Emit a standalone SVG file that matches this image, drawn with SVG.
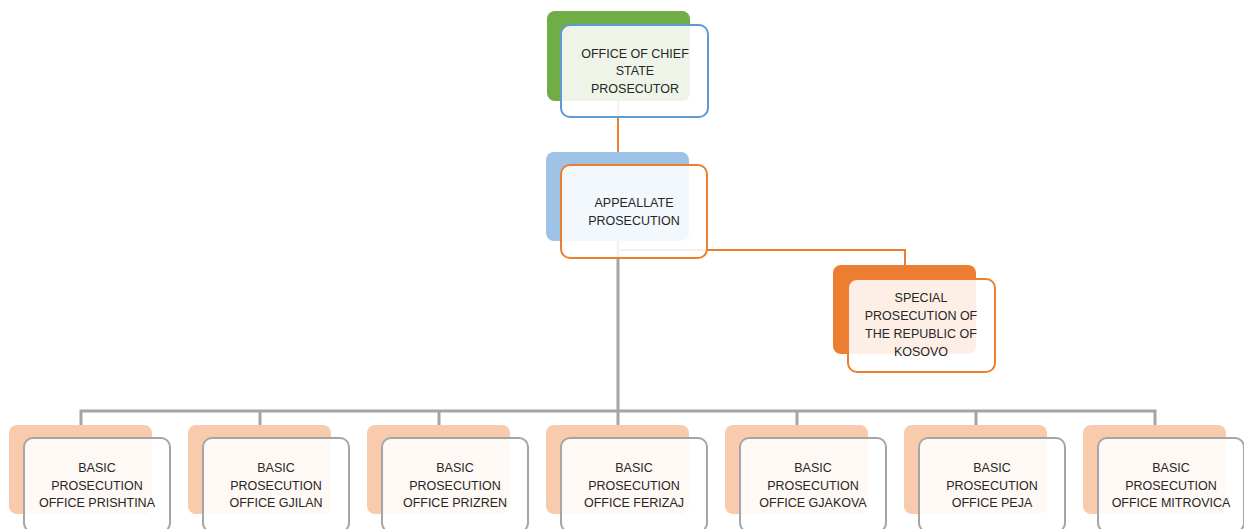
<svg xmlns="http://www.w3.org/2000/svg" width="1244" height="529" viewBox="0 0 1244 529">
<style>
text{font-family:"Liberation Sans",Arial,sans-serif;font-size:12.5px;fill:#262626;text-anchor:middle}
.front{fill:#ffffff;fill-opacity:0.88;stroke-width:2}
.conn-o{fill:none;stroke:#ED7D31;stroke-width:2}
.conn-g{fill:none;stroke:#A5A5A5;stroke-width:3}
.bk-basic{fill:#F8CBAD}
.fr-basic{stroke:#A5A5A5}
</style>
<rect width="1244" height="529" fill="#ffffff"/>
<g id="connectors">
<path class="conn-o" d="M618 100 V153"/>
<path class="conn-o" d="M618 250 H905 V266"/>
<path class="conn-g" d="M618 240 V411"/>
<path class="conn-g" d="M81 426 V411 H1155 V426"/>
<path class="conn-g" d="M260 411 V426 M439 411 V426 M618 411 V426 M797 411 V426 M976 411 V426"/>
</g>
<g id="node-chief">
<rect x="547" y="11" width="143" height="90" rx="8" fill="#70AD47"/>
<rect class="front" x="561" y="25" width="147" height="92" rx="9" stroke="#5B9BD5"/>
<text x="635" y="58">OFFICE OF CHIEF</text>
<text x="635" y="75">STATE</text>
<text x="635" y="93">PROSECUTOR</text>
</g>
<g id="node-appellate">
<rect x="546" y="152" width="143" height="89" rx="8" fill="#9DC3E6"/>
<rect class="front" x="561" y="165" width="146" height="93" rx="9" stroke="#ED7D31"/>
<text x="634" y="207">APPEALLATE</text>
<text x="634" y="225">PROSECUTION</text>
</g>
<g id="node-special">
<rect x="833" y="265" width="143" height="89" rx="8" fill="#ED7D31"/>
<rect class="front" x="848" y="279" width="147" height="93" rx="9" stroke="#ED7D31"/>
<text x="921" y="302">SPECIAL</text>
<text x="921" y="320">PROSECUTION OF</text>
<text x="921" y="338">THE REPUBLIC OF</text>
<text x="921" y="356">KOSOVO</text>
</g>
<g id="node-prishtina">
<rect class="bk-basic" x="9" y="425" width="143" height="89" rx="8"/>
<rect class="front fr-basic" x="24" y="438" width="146" height="94" rx="9"/>
<text x="97" y="472">BASIC</text>
<text x="97" y="490">PROSECUTION</text>
<text x="97" y="507">OFFICE PRISHTINA</text>
</g>
<g id="node-gjilan">
<rect class="bk-basic" x="188" y="425" width="143" height="89" rx="8"/>
<rect class="front fr-basic" x="203" y="438" width="146" height="94" rx="9"/>
<text x="276" y="472">BASIC</text>
<text x="276" y="490">PROSECUTION</text>
<text x="276" y="507">OFFICE GJILAN</text>
</g>
<g id="node-prizren">
<rect class="bk-basic" x="367" y="425" width="143" height="89" rx="8"/>
<rect class="front fr-basic" x="382" y="438" width="146" height="94" rx="9"/>
<text x="455" y="472">BASIC</text>
<text x="455" y="490">PROSECUTION</text>
<text x="455" y="507">OFFICE PRIZREN</text>
</g>
<g id="node-ferizaj">
<rect class="bk-basic" x="546" y="425" width="143" height="89" rx="8"/>
<rect class="front fr-basic" x="561" y="438" width="146" height="94" rx="9"/>
<text x="634" y="472">BASIC</text>
<text x="634" y="490">PROSECUTION</text>
<text x="634" y="507">OFFICE FERIZAJ</text>
</g>
<g id="node-gjakova">
<rect class="bk-basic" x="725" y="425" width="143" height="89" rx="8"/>
<rect class="front fr-basic" x="740" y="438" width="146" height="94" rx="9"/>
<text x="813" y="472">BASIC</text>
<text x="813" y="490">PROSECUTION</text>
<text x="813" y="507">OFFICE GJAKOVA</text>
</g>
<g id="node-peja">
<rect class="bk-basic" x="904" y="425" width="143" height="89" rx="8"/>
<rect class="front fr-basic" x="919" y="438" width="146" height="94" rx="9"/>
<text x="992" y="472">BASIC</text>
<text x="992" y="490">PROSECUTION</text>
<text x="992" y="507">OFFICE PEJA</text>
</g>
<g id="node-mitrovica">
<rect class="bk-basic" x="1083" y="425" width="143" height="89" rx="8"/>
<rect class="front fr-basic" x="1098" y="438" width="146" height="94" rx="9"/>
<text x="1171" y="472">BASIC</text>
<text x="1171" y="490">PROSECUTION</text>
<text x="1171" y="507">OFFICE MITROVICA</text>
</g>
</svg>
